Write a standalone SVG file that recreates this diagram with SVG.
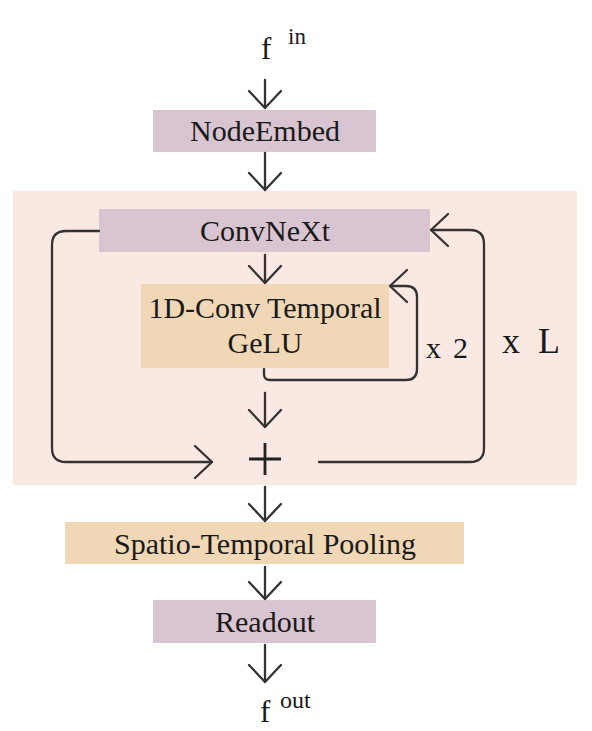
<svg xmlns="http://www.w3.org/2000/svg" width="592" height="731" viewBox="0 0 592 731">
<style>
.t{font-family:"Liberation Serif","Times New Roman",serif;font-size:30px;fill:#1a1a1a;text-anchor:middle}
.s{font-family:"Liberation Serif","Times New Roman",serif;fill:#1a1a1a}
.c{fill:none;stroke:#333;stroke-width:2.3;stroke-linejoin:round;stroke-linecap:round}
.p{fill:#d9c5d1}
.o{fill:#f0d7b5}
</style>
<defs>
<marker id="ah" markerUnits="userSpaceOnUse" markerWidth="40" markerHeight="40" viewBox="-20 -20 40 40" refX="0" refY="0" orient="auto" overflow="visible">
<path d="M-17,-16 L0,0 L-17,16" fill="none" stroke="#333" stroke-width="2.3" stroke-linejoin="round" stroke-linecap="round"/>
</marker>
</defs>
<rect id="block" x="13" y="191" width="564" height="294" fill="#fae8e2"/>
<g id="fin"><text class="s" x="261" y="59" font-size="31">f</text><text class="s" x="288" y="44" font-size="23">in</text></g>
<g id="nodeembed"><rect class="p" x="153" y="110" width="223" height="42"/><text class="t" x="265" y="141">NodeEmbed</text></g>
<g id="convnext"><rect class="p" x="99" y="209" width="331" height="43"/><text class="t" x="265" y="241">ConvNeXt</text></g>
<g id="conv1d"><rect class="o" x="141" y="284" width="248" height="84"/><text class="t" x="265" y="318">1D-Conv Temporal</text><text class="t" x="265" y="353">GeLU</text></g>
<g id="plus"><path d="M265 443 V475 M249 459 H281" stroke="#222" stroke-width="2.8" fill="none"/></g>
<g id="x2"><text class="s" y="358" font-size="30"><tspan x="426">x</tspan> <tspan x="453">2</tspan></text></g>
<g id="xL"><text class="s" y="353" font-size="36"><tspan x="502">x</tspan> <tspan x="538">L</tspan></text></g>
<g id="pooling"><rect class="o" x="65" y="522" width="399" height="42"/><text class="t" x="265" y="554">Spatio-Temporal Pooling</text></g>
<g id="readout"><rect class="p" x="153" y="600" width="223" height="43"/><text class="t" x="265" y="632">Readout</text></g>
<g id="fout"><text class="s" x="260" y="722" font-size="31">f</text><text class="s" x="280" y="708" font-size="24">out</text></g>
<g id="connectors">
<path class="c" d="M265 80 V108" marker-end="url(#ah)"/>
<path class="c" d="M265 153 V190" marker-end="url(#ah)"/>
<path class="c" d="M265 255 V283" marker-end="url(#ah)"/>
<path class="c" d="M265 393 V427" marker-end="url(#ah)"/>
<path class="c" d="M265 487 V521" marker-end="url(#ah)"/>
<path class="c" d="M265 567 V599" marker-end="url(#ah)"/>
<path class="c" d="M265 645 V682" marker-end="url(#ah)"/>
<path class="c" d="M99 231 H66 Q52 231 52 245 V448 Q52 462 66 462 H212" marker-end="url(#ah)"/>
<path class="c" d="M319 462 H470 Q484 462 484 448 V244 Q484 230 470 230 H431" marker-end="url(#ah)"/>
<path class="c" d="M264 369 V374 Q264 380 270 380 H406 Q417 380 417 369 V297 Q417 286 406 286 H390" marker-end="url(#ah)"/>
</g>
</svg>
